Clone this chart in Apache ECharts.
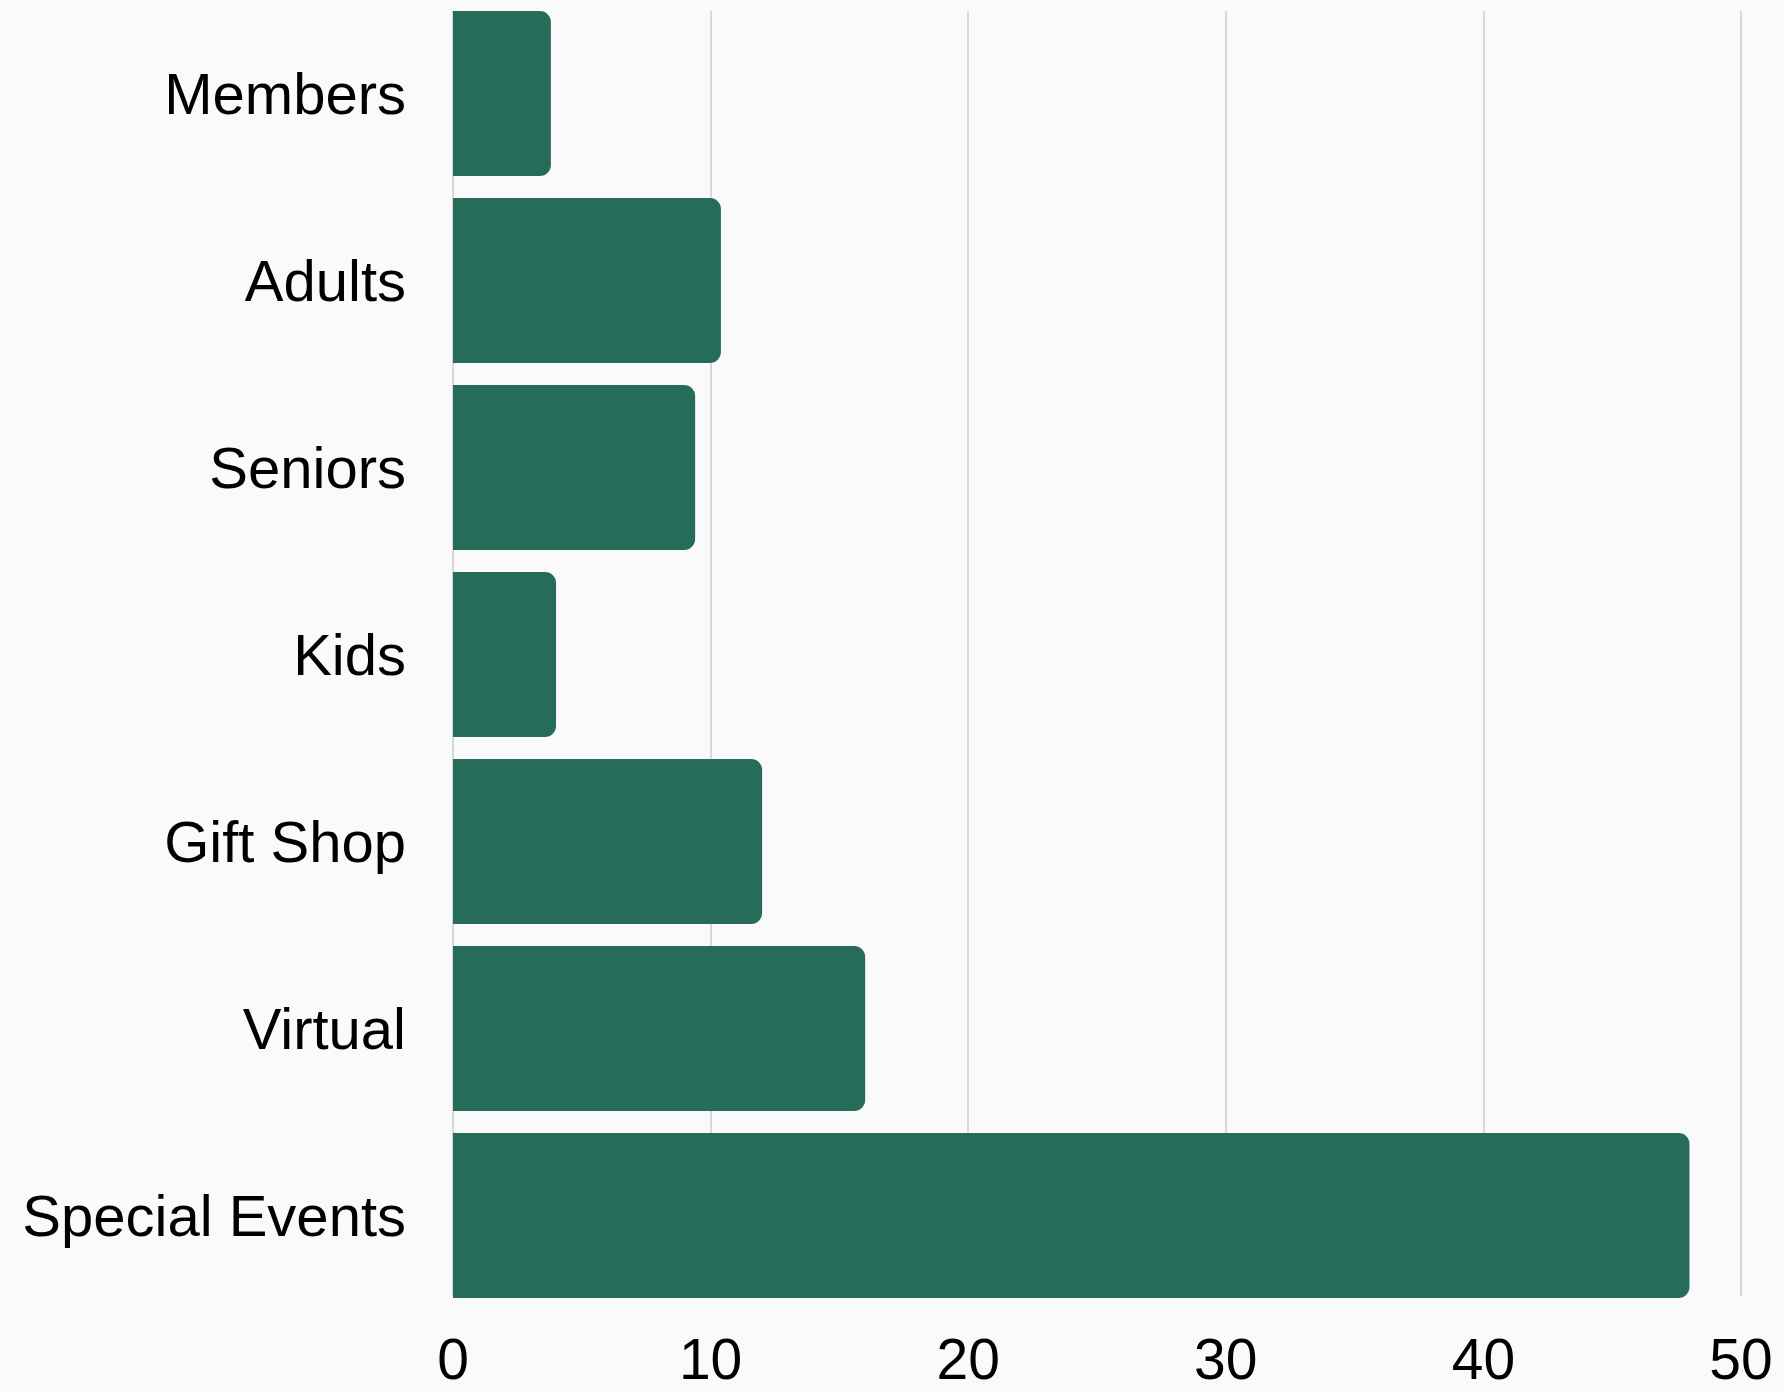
<!DOCTYPE html>
<html>
<head>
<meta charset="utf-8">
<title>Revenue by Source</title>
<script src="https://cdn.jsdelivr.net/npm/echarts@6/dist/echarts.min.js"></script>
<style>
  html, body { margin: 0; padding: 0; background: #fafafa; }
  #chart { width: 1784px; height: 1392px; }
</style>
</head>
<body>
<div id="chart"></div>
<script>
// Categories, top to bottom
const categories = ['Members', 'Adults', 'Seniors', 'Kids', 'Gift Shop', 'Virtual', 'Special Events'];
// Value per category
const values = [3.8, 10.4, 9.4, 4.0, 12.0, 16.0, 48.0];
// Value axis ticks
const xTicks = [0, 10, 20, 30, 40, 50];

const FONT = '"Liberation Sans", Arial, sans-serif';
const BAR_COLOR = '#276b5a';
const TEXT_COLOR = '#000000';
const xMin = xTicks[0];
const xMax = xTicks[xTicks.length - 1];
const xStep = xTicks[1] - xTicks[0];

const chart = echarts.init(document.getElementById('chart'));

chart.setOption({
  backgroundColor: '#fafafa',
  animation: false,
  grid: [
    // bars: bands fill edge to edge, so the band area extends half a gap beyond the plot
    { left: 453, right: 43, top: 0, height: 1309, containLabel: false },
    // gridlines and tick labels span the plot area itself
    { left: 453, right: 43, top: 11, height: 1287, containLabel: false },
    // category labels, nudged so the cap height sits on the bar centre
    { left: 453, right: 43, top: 4, height: 1309, containLabel: false }
  ],
  xAxis: [
    {
      gridIndex: 0, type: 'value', min: xMin, max: xMax, interval: xStep,
      show: false
    },
    {
      gridIndex: 1, type: 'value', min: xMin, max: xMax, interval: xStep,
      axisLine: { show: false },
      axisTick: { show: false },
      splitLine: { show: true, lineStyle: { color: '#cccccc', width: 1.5 } },
      axisLabel: {
        margin: 39, fontSize: 57, color: TEXT_COLOR, fontFamily: FONT
      }
    },
    {
      gridIndex: 2, type: 'value', min: xMin, max: xMax, interval: xStep,
      show: false
    }
  ],
  yAxis: [
    {
      gridIndex: 0, type: 'category', data: categories, inverse: true,
      axisLine: { show: false },
      axisTick: { show: false },
      splitLine: { show: false },
      axisLabel: { show: false }
    },
    {
      gridIndex: 1, type: 'value', min: 0, max: 1, show: false
    },
    {
      gridIndex: 2, type: 'category', data: categories, inverse: true,
      axisLine: { show: false },
      axisTick: { show: false },
      splitLine: { show: false },
      axisLabel: {
        margin: 47, fontSize: 58, color: TEXT_COLOR, fontFamily: FONT
      }
    }
  ],
  series: [
    {
      type: 'bar',
      xAxisIndex: 0,
      yAxisIndex: 0,
      data: values,
      barCategoryGap: '11.76%',
      itemStyle: { color: BAR_COLOR, borderRadius: [0, 11, 11, 0] },
      z: 3
    }
  ]
});
</script>
</body>
</html>
